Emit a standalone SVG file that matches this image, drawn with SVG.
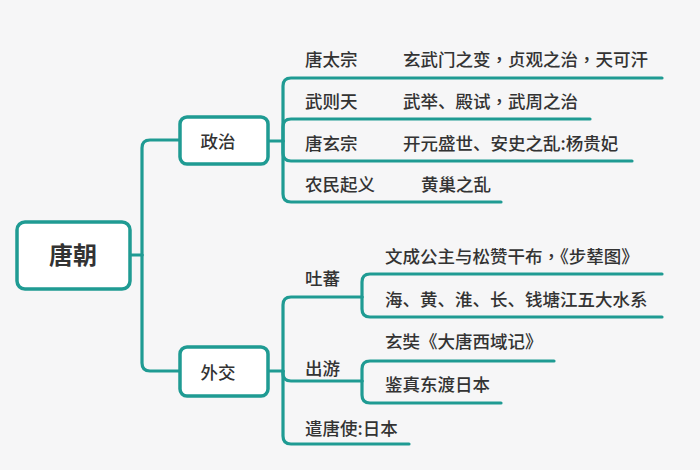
<svg xmlns="http://www.w3.org/2000/svg" width="700" height="470" viewBox="0 0 700 470">
  <style>
    .ln{fill:none;stroke:#1f9b93;stroke-width:3.2;stroke-linecap:round}
    .box{fill:#ffffff;stroke:#1f9b93;stroke-width:3.5}
    .t{font-family:"Noto Sans CJK SC","Noto Sans",sans-serif;font-size:17.5px;font-weight:500;fill:#333333}
    .root{font-size:24px;font-weight:700}
    .mid{text-anchor:middle}
    .cm{font-family:"Noto Sans CJK TC","Noto Sans CJK SC",sans-serif}
  </style>
  <rect width="700" height="470" fill="#f6f6f7"/>
  <g id="connectors">
    <path class="ln" d="M130,255 H142"/>
    <path class="ln" d="M142,255 V148 Q142,140 150,140 H180"/>
    <path class="ln" d="M142,255 V363 Q142,371 150,371 H180"/>
    <path class="ln" d="M268,141 H283"/>
    <path class="ln" d="M283,141 V86 Q283,78 291,78 H662"/>
    <path class="ln" d="M283,141 V127 Q283,119 291,119 H590"/>
    <path class="ln" d="M283,141 V153 Q283,161 291,161 H632"/>
    <path class="ln" d="M283,141 V194 Q283,202 291,202 H501"/>
    <path class="ln" d="M268,371 H283"/>
    <path class="ln" d="M283,371 V305 Q283,297 291,297 H362"/>
    <path class="ln" d="M283,371 V374 Q283,381 291,381 H362"/>
    <path class="ln" d="M283,371 V436 Q283,444 291,444 H409"/>
    <path class="ln" d="M362,297 V282 Q362,274 370,274 H662"/>
    <path class="ln" d="M362,297 V309 Q362,317 370,317 H662"/>
    <path class="ln" d="M362,381 V369 Q362,361 370,361 H554"/>
    <path class="ln" d="M362,381 V395 Q362,403 370,403 H501"/>
  </g>
  <g id="root">
    <rect class="box" x="17" y="222" width="113" height="67" rx="8"/>
    <text class="t root mid" x="73" y="264">唐朝</text>
  </g>
  <g id="zhengzhi">
    <rect class="box" x="180" y="117" width="88" height="47" rx="7"/>
    <text class="t mid" x="218" y="147.5">政治</text>
  </g>
  <g id="waijiao">
    <rect class="box" x="180" y="347" width="88" height="49" rx="7"/>
    <text class="t mid" x="218" y="378.5">外交</text>
  </g>
  <g id="taizong">
    <text class="t" x="305" y="66">唐太宗</text>
    <text class="t" x="403" y="66">玄武门之变<tspan class="cm">，</tspan>贞观之治<tspan class="cm">，</tspan>天可汗</text>
  </g>
  <g id="wuzetian">
    <text class="t" x="305" y="108">武则天</text>
    <text class="t" x="403" y="108">武举、殿试<tspan class="cm">，</tspan>武周之治</text>
  </g>
  <g id="xuanzong">
    <text class="t" x="305" y="150">唐玄宗</text>
    <text class="t" x="403" y="150">开元盛世、安史之乱:杨贵妃</text>
  </g>
  <g id="nongmin">
    <text class="t" x="305" y="191">农民起义</text>
    <text class="t" x="421" y="191">黄巢之乱</text>
  </g>
  <g id="tubo">
    <text class="t" x="305" y="285">吐蕃</text>
  </g>
  <g id="wencheng">
    <text class="t" x="385" y="263">文成公主与松赞干布<tspan class="cm">，</tspan>《步辇图》</text>
  </g>
  <g id="shuixi">
    <text class="t" x="385" y="306">海、黄、淮、长、钱塘江五大水系</text>
  </g>
  <g id="chuyou">
    <text class="t" x="305" y="375">出游</text>
  </g>
  <g id="xuanzang">
    <text class="t" x="385" y="348">玄奘《大唐西域记》</text>
  </g>
  <g id="jianzhen">
    <text class="t" x="385" y="391">鉴真东渡日本</text>
  </g>
  <g id="qiantangshi">
    <text class="t" x="305" y="435">遣唐使:日本</text>
  </g>
</svg>
